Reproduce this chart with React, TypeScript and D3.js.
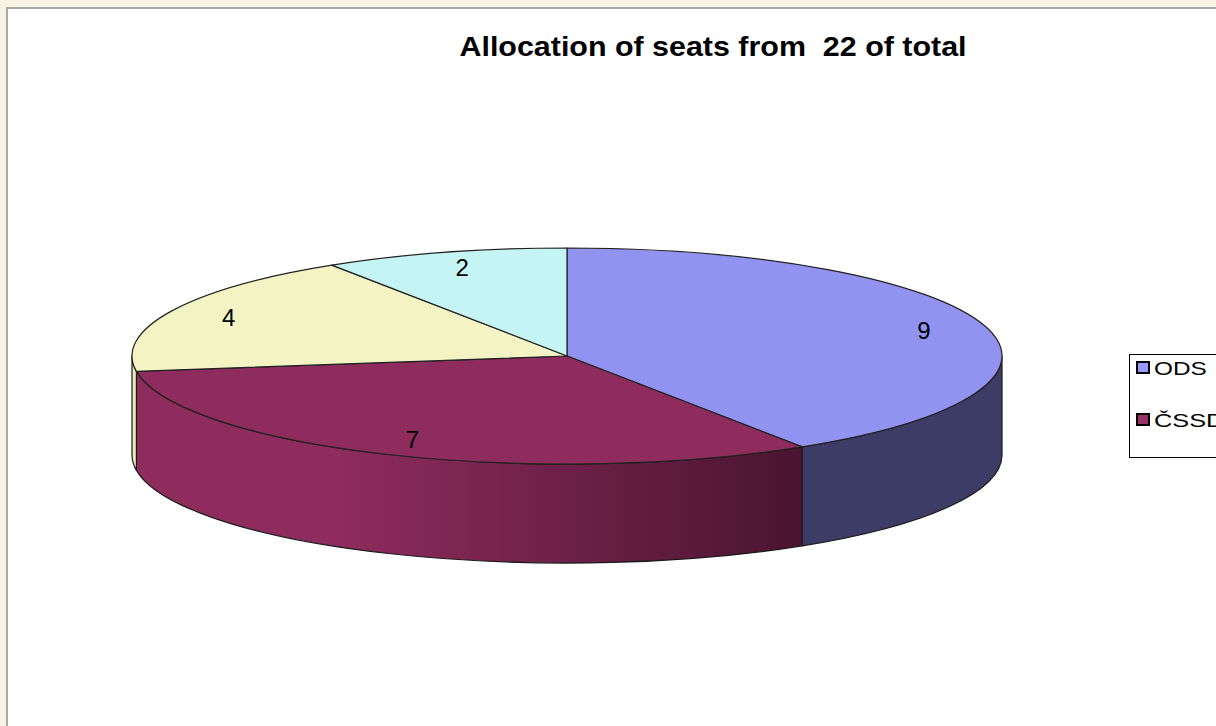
import { useEffect, useRef } from "react";
import * as d3 from "d3";

// seats per party, clockwise from 12 o'clock
const seatValues: number[] = [9, 7, 4, 2];
const topColors: string[] = ["#9292f0", "#8e2c5e", "#f3f3c3", "#c4f4f4"];
const sideLight: string[] = ["#44446e", "#8e2c5e", "#e8e8b8", "#b8e8e8"];
const sideDark: string[] = ["#3c3c66", "#4a1430", "#c8c898", "#98c8c8"];
// legend only shows these two (the rest is cut off in the original)
const legendLabels: string[] = ["ODS", "ČSSD"];
const legendColors: string[] = ["#9999ff", "#993366"];
const titleText = "Allocation of seats from  22 of total";

const FONT = "Liberation Sans, Arial, sans-serif";

const App: React.FC = () => {
  const ref = useRef<SVGSVGElement>(null);

  useEffect(() => {
    const width = 1216;
    const height = 726;
    const svg = d3.select(ref.current).attr("width", width).attr("height", height);
    svg.selectAll("*").remove();

    // page background + chart panel
    svg.append("rect").attr("width", width).attr("height", height).attr("fill", "#f6f3e5");
    svg.append("rect")
      .attr("x", 7).attr("y", 8)
      .attr("width", width).attr("height", height)
      .attr("fill", "#ffffff")
      .attr("stroke", "#a9a9a3")
      .attr("stroke-width", 2);

    svg.append("text")
      .attr("x", 713).attr("y", 56)
      .attr("text-anchor", "middle")
      .attr("font-family", FONT)
      .attr("font-weight", "bold")
      .attr("font-size", 28)
      .attr("textLength", 507)
      .attr("lengthAdjust", "spacingAndGlyphs")
      .style("white-space", "pre")
      .text(titleText);

    const cx = 567;
    const cy = 356;
    const rx = 435;
    const ry = 108;
    const depth = 99;

    const pt = (a: number, dy = 0): [number, number] => [
      cx + rx * Math.sin(a),
      cy - ry * Math.cos(a) + dy,
    ];

    const pie = d3.pie<number>().sort(null).value(d => d);
    const arcs = pie(seatValues);

    const defs = svg.append("defs");
    arcs.forEach((_, i) => {
      const g = defs.append("linearGradient")
        .attr("id", "side" + i)
        .attr("gradientUnits", "userSpaceOnUse")
        .attr("x1", cx - rx).attr("x2", cx + rx * 0.55)
        .attr("y1", 0).attr("y2", 0);
      g.append("stop").attr("offset", 0).attr("stop-color", sideLight[i]);
      g.append("stop").attr("offset", 0.3).attr("stop-color", sideLight[i]);
      g.append("stop").attr("offset", 1).attr("stop-color", sideDark[i]);
    });

    // front walls (angles between pi/2 and 3pi/2 face the viewer)
    arcs.forEach((d, i) => {
      const a0 = Math.max(d.startAngle, Math.PI / 2);
      const a1 = Math.min(d.endAngle, (3 * Math.PI) / 2);
      if (a1 <= a0) return;
      const p0 = pt(a0);
      const p1 = pt(a1);
      const q0 = pt(a0, depth);
      const q1 = pt(a1, depth);
      const path = `M${p0}A${rx},${ry} 0 0 1 ${p1}L${q1}A${rx},${ry} 0 0 0 ${q0}Z`;
      svg.append("path")
        .attr("d", path)
        .attr("fill", i === 0 ? sideDark[i] : `url(#side${i})`)
        .attr("stroke", "#1a1a1a")
        .attr("stroke-width", 1.2)
        .attr("stroke-linejoin", "round");
    });

    // top faces
    arcs.forEach((d, i) => {
      const p0 = pt(d.startAngle);
      const p1 = pt(d.endAngle);
      const large = d.endAngle - d.startAngle > Math.PI ? 1 : 0;
      svg.append("path")
        .attr("d", `M${cx},${cy}L${p0}A${rx},${ry} 0 ${large} 1 ${p1}Z`)
        .attr("fill", topColors[i])
        .attr("stroke", "#222")
        .attr("stroke-width", 1.2)
        .attr("stroke-linejoin", "round");
    });

    // value labels
    arcs.forEach(d => {
      const m = (d.startAngle + d.endAngle) / 2;
      svg.append("text")
        .attr("x", cx + rx * 0.855 * Math.sin(m))
        .attr("y", cy - ry * 0.85 * Math.cos(m) + 8.5)
        .attr("text-anchor", "middle")
        .attr("font-family", FONT)
        .attr("font-size", 24)
        .attr("fill", "#000")
        .text(String(d.data));
    });

    // legend
    const lg = svg.append("g");
    lg.append("rect")
      .attr("x", 1129.5).attr("y", 354.5)
      .attr("width", 120).attr("height", 103)
      .attr("fill", "#fff")
      .attr("stroke", "#000")
      .attr("stroke-width", 1);
    legendLabels.forEach((lab, i) => {
      const y = 362 + i * 52;
      lg.append("rect")
        .attr("x", 1137).attr("y", y)
        .attr("width", 12).attr("height", 11)
        .attr("fill", legendColors[i])
        .attr("stroke", "#000")
        .attr("stroke-width", 2);
      lg.append("text")
        .attr("x", 1154).attr("y", y + 12.5)
        .attr("font-family", FONT)
        .attr("font-size", 18)
        .attr("textLength", lab.length * 17.6)
        .attr("lengthAdjust", "spacingAndGlyphs")
        .text(lab);
    });
  }, []);

  return <svg ref={ref} style={{ position: "absolute", left: 0, top: 0 }} />;
};

export default App;
